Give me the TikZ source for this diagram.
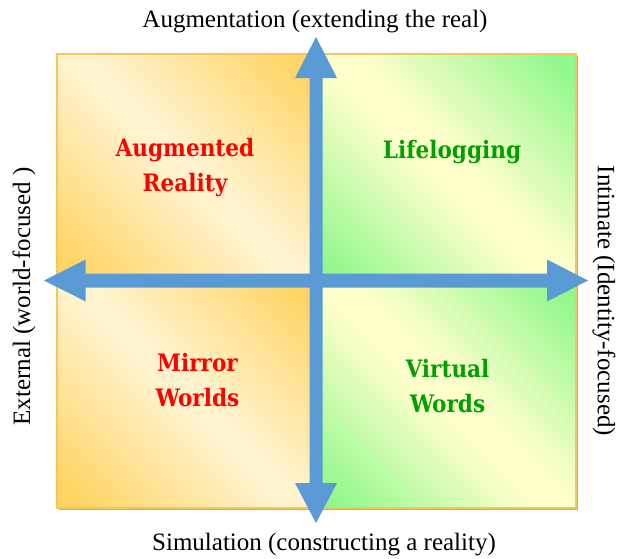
\documentclass[tikz,border=0pt]{standalone}
\usepackage{fontspec}
\setmainfont{Liberation Serif}
\newfontfamily\quadfont{DejaVu Serif Condensed}
\usetikzlibrary{calc}
\definecolor{ora}{RGB}{255,212,98}
\definecolor{crm}{RGB}{255,242,204}
\definecolor{grn}{RGB}{145,248,140}
\definecolor{lyl}{RGB}{255,255,204}
\definecolor{arrowblue}{RGB}{91,155,213}
\definecolor{framegold}{RGB}{242,200,92}
\definecolor{shadowc}{RGB}{200,170,110}
\definecolor{txtred}{RGB}{255,0,0}
\definecolor{txtgreen}{RGB}{0,160,0}
\pgfdeclarehorizontalshading{orangesh}{100bp}{color(0bp)=(ora); color(18bp)=(ora); color(47bp)=(crm); color(53bp)=(crm); color(82bp)=(ora); color(100bp)=(ora)}
\pgfdeclarehorizontalshading{greensh}{100bp}{color(0bp)=(grn); color(18bp)=(grn); color(47bp)=(lyl); color(53bp)=(lyl); color(82bp)=(grn); color(100bp)=(grn)}
\tikzset{
  axislabel/.style={font=\fontsize{25}{30}\selectfont, inner sep=0pt, text=black},
  quadlabel/.style={font=\quadfont\bfseries\fontsize{24}{35}\selectfont, align=center, inner sep=0pt},
  redlabel/.style={quadlabel, text=txtred},
  greenlabel/.style={quadlabel, text=txtgreen},
  arrowshape/.style={fill=arrowblue, draw=none},
}
\begin{document}
\begin{tikzpicture}[x=1pt,y=-1pt]
\useasboundingbox (0,0) rectangle (622,558);
\fill[white] (0,0) rectangle (622,558);
% frame coordinates
\coordinate (TL) at (57,54);
\coordinate (BR) at (576,508);
\coordinate (C) at (316,280.5);
% shadow and frame
\fill[shadowc] ($(TL)+(2,2)$) rectangle ($(BR)+(2,2)$);
% quadrants
\shade[shading=orangesh, shading angle=45] (TL) rectangle (C);
\shade[shading=greensh, shading angle=45] (TL -| C) rectangle (C -| BR);
\shade[shading=orangesh, shading angle=45] (C -| TL) rectangle (BR -| C);
\shade[shading=greensh, shading angle=45] (C) rectangle (BR);
\draw[framegold, line width=1.5pt] (TL) rectangle (BR);
% arrows
\coordinate (up) at (316,37);
\coordinate (down) at (316,523);
\coordinate (left) at (44,280.5);
\coordinate (right) at (588,280.5);
\fill[arrowshape] (up) -- ++(21,41) -- ++(-14.5,0) -- (322.5,483) -- ++(14.5,0) -- (down) -- (295,483) -- ++(14.5,0) -- (309.5,78) -- ++(-14.5,0) -- cycle;
\fill[arrowshape] (left) -- ++(41.7,-21) -- ++(0,14) -- (547,273.5) -- ++(0,-14) -- (right) -- (547,301.5) -- ++(0,-14) -- (85.7,287.5) -- ++(0,14) -- cycle;
% labels
\node[axislabel] (top) at (315,22) {Augmentation (extending the real)};
\node[axislabel] (bottom) at (324,545) {Simulation (constructing a reality)};
\node[axislabel, rotate=90] (leftlab) at (24,296.5) {External (world-focused )};
\node[axislabel, rotate=-90] (rightlab) at (604,301) {Intimate (Identity-focused)};
\node[redlabel] (ar) at (185,168) {Augmented\\Reality};
\node[greenlabel] (lf) at (452,152) {Lifelogging};
\node[redlabel] (mw) at (197.5,380) {Mirror\\Worlds};
\node[greenlabel] (vw) at (447.5,386) {Virtual\\Words};
\end{tikzpicture}
\end{document}
